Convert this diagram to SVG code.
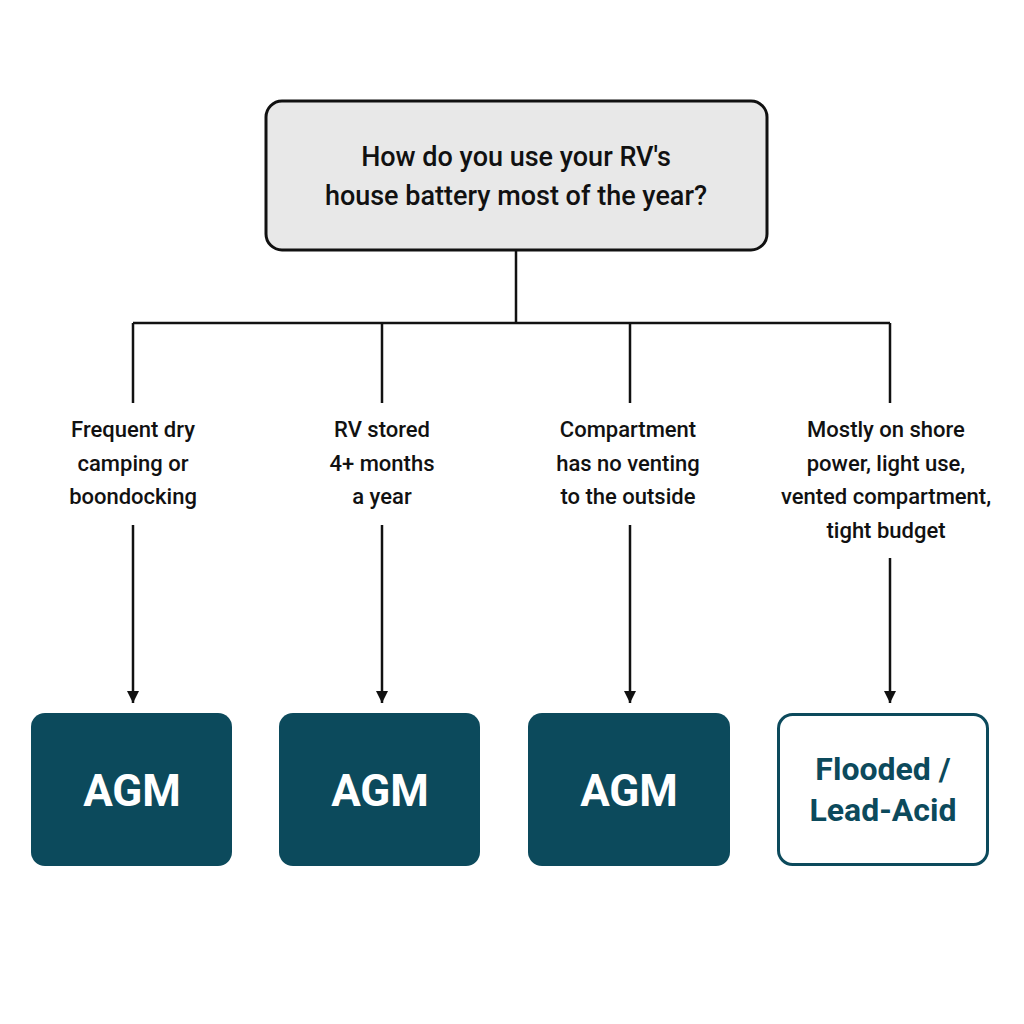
<svg xmlns="http://www.w3.org/2000/svg" width="1024" height="1024" viewBox="0 0 1024 1024">
<defs>
<marker id="ah" viewBox="0 0 10 10" refX="10" refY="5" markerWidth="5" markerHeight="5" orient="auto" markerUnits="strokeWidth"><path d="M0,0 L10,5 L0,10 z" fill="#111"/></marker>
<style>
.ln{stroke:#111;stroke-width:2.5;fill:none}
.lbl{font-family:Roboto,"Liberation Sans",sans-serif;font-size:22px;font-weight:500;fill:#111;text-anchor:middle}
.dark{fill:#0c4a5c}
.agm{font-family:Roboto,"Liberation Sans",sans-serif;font-size:44px;font-weight:700;fill:#fff;text-anchor:middle}
</style>
</defs>
<rect width="1024" height="1024" fill="#fff"/>
<g id="root">
<rect x="266" y="101" width="501" height="149" rx="16" fill="#e8e8e8" stroke="#111" stroke-width="3"/>
<text x="516" y="166" font-family="Roboto,'Liberation Sans',sans-serif" font-size="27" font-weight="500" fill="#111" text-anchor="middle">How do you use your RV's</text>
<text x="516" y="205" font-family="Roboto,'Liberation Sans',sans-serif" font-size="27" font-weight="500" fill="#111" text-anchor="middle">house battery most of the year?</text>
</g>
<g id="connectors">
<path class="ln" d="M516,250 V323 M133,323 H890 M133,323 V403 M382,323 V403 M630,323 V403 M890,323 V403"/>
<path class="ln" d="M133,525 V703" marker-end="url(#ah)"/>
<path class="ln" d="M382,525 V703" marker-end="url(#ah)"/>
<path class="ln" d="M630,525 V703" marker-end="url(#ah)"/>
<path class="ln" d="M890,558 V703" marker-end="url(#ah)"/>
</g>
<g id="labels">
<text class="lbl" x="133" y="437">Frequent dry</text><text class="lbl" x="133" y="471">camping or</text><text class="lbl" x="133" y="504">boondocking</text>
<text class="lbl" x="382" y="437">RV stored</text><text class="lbl" x="382" y="471">4+ months</text><text class="lbl" x="382" y="504">a year</text>
<text class="lbl" x="628" y="437">Compartment</text><text class="lbl" x="628" y="471">has no venting</text><text class="lbl" x="628" y="504">to the outside</text>
<text class="lbl" x="886" y="437">Mostly on shore</text><text class="lbl" x="886" y="471">power, light use,</text><text class="lbl" x="886" y="504">vented compartment,</text><text class="lbl" x="886" y="538">tight budget</text>
</g>
<g id="n1"><rect class="dark" x="31" y="713" width="201" height="153" rx="14"/><text class="agm" x="132" y="806">AGM</text></g>
<g id="n2"><rect class="dark" x="279" y="713" width="201" height="153" rx="14"/><text class="agm" x="380" y="806">AGM</text></g>
<g id="n3"><rect class="dark" x="528" y="713" width="202" height="153" rx="14"/><text class="agm" x="629" y="806">AGM</text></g>
<g id="n4"><rect x="778.5" y="714.5" width="209" height="150" rx="14" fill="#fff" stroke="#0c4a5c" stroke-width="3"/>
<text x="883" y="780" font-family="Roboto,'Liberation Sans',sans-serif" font-size="32" font-weight="700" fill="#0c4a5c" text-anchor="middle">Flooded /</text>
<text x="883" y="821" font-family="Roboto,'Liberation Sans',sans-serif" font-size="32" font-weight="700" fill="#0c4a5c" text-anchor="middle">Lead-Acid</text></g>
</svg>
